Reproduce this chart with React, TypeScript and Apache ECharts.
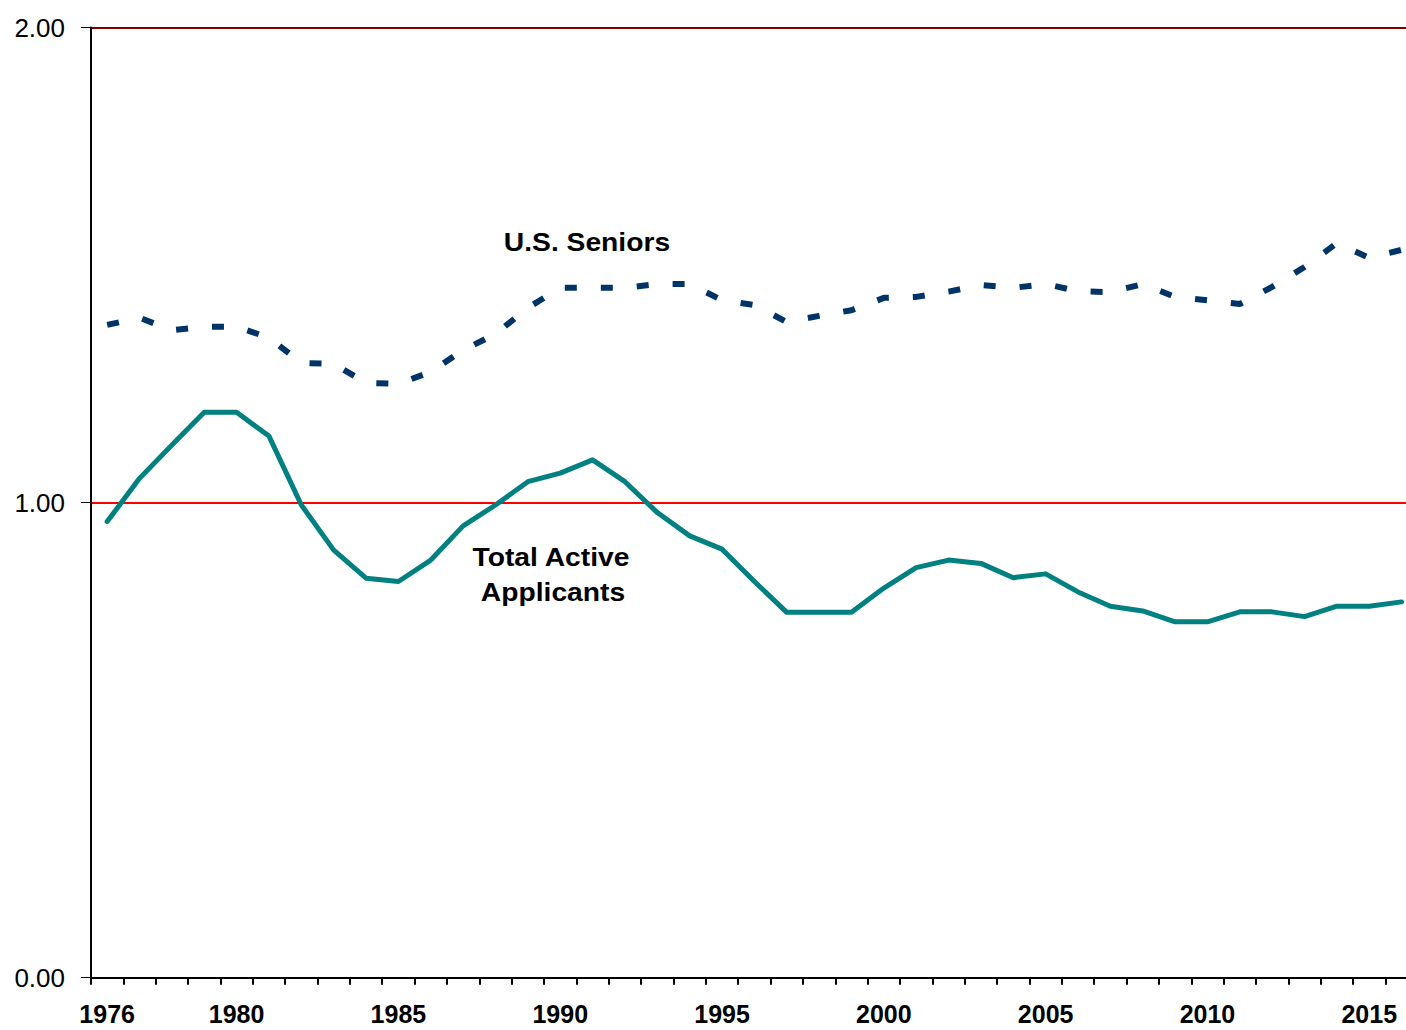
import React, { useEffect, useRef } from "react";
import * as echarts from "echarts";

const years: string[] = [
  "1976", "1977", "1978", "1979", "1980", "1981", "1982", "1983", "1984", "1985",
  "1986", "1987", "1988", "1989", "1990", "1991", "1992", "1993", "1994", "1995",
  "1996", "1997", "1998", "1999", "2000", "2001", "2002", "2003", "2004", "2005",
  "2006", "2007", "2008", "2009", "2010", "2011", "2012", "2013", "2014", "2015", "2016",
];

const usSeniors: number[] = [
  1.374, 1.389, 1.363, 1.370, 1.370, 1.347, 1.294, 1.292, 1.252, 1.250,
  1.275, 1.321, 1.355, 1.410, 1.452, 1.452, 1.452, 1.460, 1.460, 1.426,
  1.416, 1.380, 1.393, 1.405, 1.431, 1.433, 1.444, 1.458, 1.452, 1.460,
  1.445, 1.443, 1.460, 1.433, 1.426, 1.418, 1.454, 1.496, 1.546, 1.515, 1.532,
];

const totalActive: number[] = [
  0.960, 1.051, 1.121, 1.190, 1.190, 1.140, 0.995, 0.900, 0.841, 0.834,
  0.879, 0.951, 0.995, 1.044, 1.062, 1.090, 1.044, 0.979, 0.930, 0.902,
  0.834, 0.769, 0.769, 0.769, 0.820, 0.863, 0.879, 0.872, 0.842, 0.850,
  0.812, 0.782, 0.772, 0.749, 0.749, 0.770, 0.770, 0.760, 0.782, 0.782, 0.791,
];

const seniorsLabel = "U.S. Seniors";
const totalLabelLines = ["Total Active", "Applicants"];

export default function App() {
  const ref = useRef<HTMLDivElement>(null);
  useEffect(() => {
    if (!ref.current) return;
    const chart = echarts.init(ref.current, null, { renderer: "svg" });
    const font = "'Liberation Sans', Arial, sans-serif";
    const textStyle = (t: string) => ({
      text: t,
      fill: "#000000",
      font: `bold 25px ${font}`,
      textAlign: "center",
      textVerticalAlign: "middle",
    });
    chart.setOption({
      animation: false,
      backgroundColor: "#ffffff",
      grid: { left: 91, top: 27.5, width: 1326.8, height: 950.2, containLabel: false },
      xAxis: {
        type: "category",
        data: years,
        boundaryGap: true,
        axisLine: { show: true, lineStyle: { color: "#000000", width: 2 } },
        axisTick: { show: true, interval: 0, length: 7, lineStyle: { color: "#000000", width: 2 } },
        axisLabel: {
          interval: (i: number, v: string) => i === 0 || Number(v) % 5 === 0,
          margin: 26,
          lineHeight: 20,
          color: "#000000",
          fontFamily: font,
          fontWeight: "bold",
          fontSize: 25,
        },
        splitLine: { show: false },
      },
      yAxis: {
        type: "value",
        min: 0,
        max: 2,
        interval: 1,
        axisLine: { show: true, lineStyle: { color: "#000000", width: 2 } },
        axisTick: { show: true, length: 10, lineStyle: { color: "#000000", width: 1 } },
        axisLabel: {
          margin: 26,
          color: "#000000",
          fontFamily: font,
          fontSize: 26,
          formatter: (v: number) => v.toFixed(2),
        },
        splitLine: {
          show: true,
          lineStyle: { color: ["#000000", "#FF0000", "#800000"], width: 2 },
        },
      },
      series: [
        {
          name: "Total Active Applicants",
          type: "line",
          data: totalActive,
          symbol: "none",
          lineStyle: { color: "#008080", width: 5, cap: "round", join: "round" },
          z: 3,
        },
        {
          name: "U.S. Seniors",
          type: "line",
          data: usSeniors,
          symbol: "none",
          lineStyle: { color: "#003366", width: 6, type: [12, 24], cap: "butt" },
          z: 3,
        },
      ],
      graphic: [
        { type: "text", x: 587, y: 243, scaleX: 1.13, style: textStyle(seniorsLabel) },
        { type: "text", x: 551, y: 558, scaleX: 1.13, style: textStyle(totalLabelLines[0]) },
        { type: "text", x: 553, y: 593, scaleX: 1.13, style: textStyle(totalLabelLines[1]) },
      ],
    });
    return () => chart.dispose();
  }, []);
  return (
    <div style={{ position: "absolute", left: 0, top: 0, width: 1406, height: 1030, overflow: "hidden" }}>
      <div ref={ref} style={{ width: 1420, height: 1030 }} />
    </div>
  );
}
